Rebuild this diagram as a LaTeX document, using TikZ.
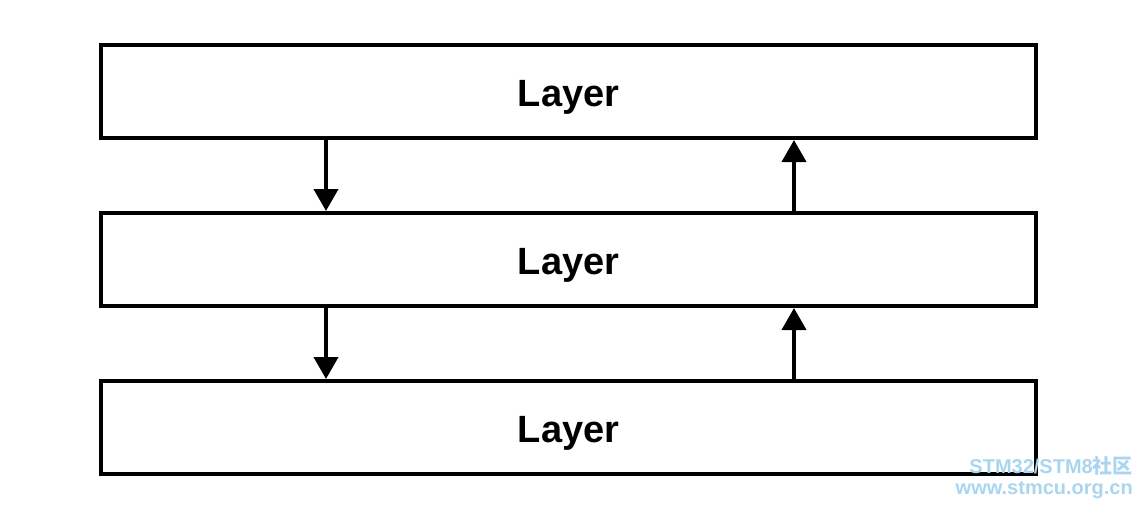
\documentclass[tikz,border=0pt]{standalone}
\usepackage{fontspec}
\setmainfont{Liberation Sans}
\newfontfamily\cjk{Noto Sans CJK SC}
\usetikzlibrary{arrows.meta}
\definecolor{wmblue}{HTML}{A9D6EE}
\begin{document}
\begin{tikzpicture}[x=1pt,y=-1pt,
  layerbox/.style={draw,line width=4pt,minimum width=935pt,minimum height=93pt,inner sep=0pt},
  layertext/.style={font=\bfseries\fontsize{38}{44}\selectfont,inner sep=0pt},
  flow/.style={line width=4pt,-{Triangle[length=22pt,width=24pt]}},
  wm/.style={text=wmblue,font=\bfseries\fontsize{20}{22}\selectfont,anchor=east,inner sep=0pt}]
\useasboundingbox (0,0) rectangle (1144,512);
\node[layerbox] (l1) at (568.5,91.5) {};
\node[layerbox] (l2) at (568.5,259.5) {};
\node[layerbox] (l3) at (568.5,427.5) {};
\node[layertext] (t1) at ([yshift=-6pt]l1.center) {Layer};
\node[layertext] (t2) at ([yshift=-6pt]l2.center) {Layer};
\node[layertext] (t3) at ([yshift=-6pt]l3.center) {Layer};
\draw[flow] (l1.south -| 326,0) -- (l2.north -| 326,0);
\draw[flow] (l2.south -| 326,0) -- (l3.north -| 326,0);
\draw[flow] (l2.north -| 794,0) -- (l1.south -| 794,0);
\draw[flow] (l3.north -| 794,0) -- (l2.south -| 794,0);
\node[wm] (w1) at (1133,466) {STM32/STM8{\cjk 社区}};
\node[wm] (w2) at (1133,490) {www.stmcu.org.cn};
\end{tikzpicture}
\end{document}
